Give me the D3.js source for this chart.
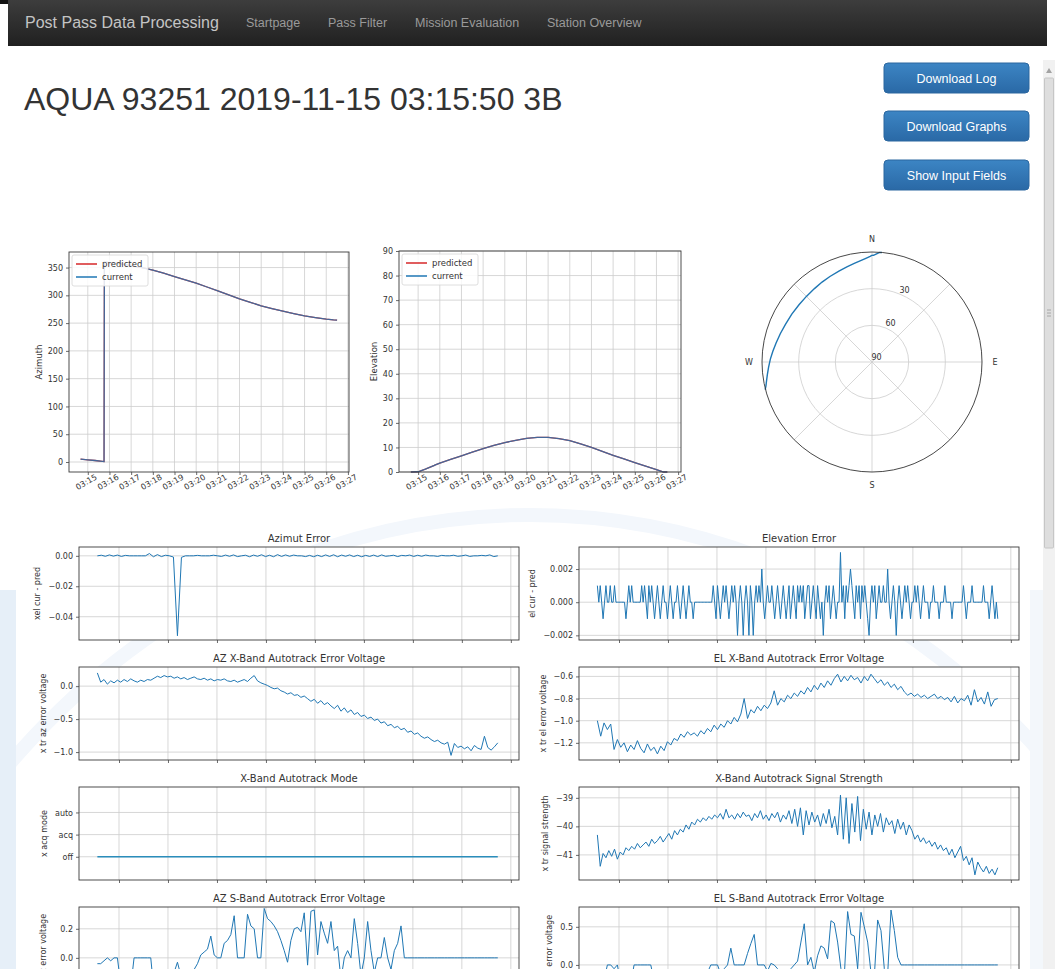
<!DOCTYPE html>
<html>
<head>
<meta charset="utf-8">
<title>Post Pass Data Processing</title>
<script src="https://cdn.jsdelivr.net/npm/d3@7"></script>
<style>
    body { margin: 0; background: #fff; overflow: hidden; }
    svg { display: block; }
    .chrome text { font-family: "Liberation Sans", Arial, sans-serif; }
    .mpl text { font-family: "DejaVu Sans", sans-serif; fill: #333; }
    .grid line { stroke: #cdcdcd; stroke-width: 0.8; }
    .frame { fill: none; stroke: #3a3a3a; stroke-width: 0.9; }
    .ax path.domain { display: none; }
    .ax line { stroke: #444; stroke-width: 0.8; }
    .ax text { font-size: 8px; fill: #333; }
</style>
</head>
<body>
<svg id="page" width="1055" height="969"></svg>
<script>
// ---- page texts ----
const brandText = "Post Pass Data Processing";
const navLinks = ["Startpage", "Pass Filter", "Mission Evaluation", "Station Overview"];
const passTitle = "AQUA 93251 2019-11-15 03:15:50 3B";
const buttonLabels = ["Download Log", "Download Graphs", "Show Input Fields"];

// ---- antenna track (top row) ----
const trackTickLabels = ["03:15", "03:16", "03:17", "03:18", "03:19", "03:20", "03:21",
    "03:22", "03:23", "03:24", "03:25", "03:26", "03:27"];
const trackTimes = ["03:14:40", "03:15:00", "03:15:20", "03:15:45", "03:15:46", "03:16:00",
    "03:16:30", "03:17:00", "03:17:30", "03:18:00", "03:18:30", "03:19:00", "03:19:30",
    "03:20:00", "03:20:30", "03:21:00", "03:21:30", "03:22:00", "03:22:30", "03:23:00",
    "03:23:30", "03:24:00", "03:24:30", "03:25:00", "03:25:30", "03:26:00", "03:26:20", "03:26:30"];
const azPredicted = [5.2, 4.0, 2.7, 0.8, 359.9, 359.0, 356.6, 353.6, 349.8, 345.2, 340.0, 333.8,
    328.0, 321.9, 315.0, 308.1, 300.8, 293.7, 287.3, 281.2, 276.2, 271.6, 267.2, 263.2, 260.0,
    257.2, 255.9, 255.4];
const azCurrent = [5.2, 4.0, 2.7, 0.8, 359.9, 359.0, 356.6, 353.6, 349.8, 345.2, 340.0, 333.8,
    328.0, 321.9, 315.0, 308.1, 300.8, 293.7, 287.3, 281.2, 276.2, 271.6, 267.2, 263.2, 260.0,
    257.2, 255.9, 255.4];
const elPredicted = [0.0, 0.1, 1.2, 2.7, 2.8, 3.6, 5.1, 6.6, 8.1, 9.5, 10.8, 12.0, 12.9, 13.7,
    14.1, 14.1, 13.6, 12.8, 11.5, 10.0, 8.4, 6.8, 5.3, 3.8, 2.4, 1.0, 0.0, 0.0];
const elCurrent = [0.0, 0.1, 1.2, 2.7, 2.8, 3.6, 5.1, 6.6, 8.1, 9.5, 10.8, 12.0, 12.9, 13.7,
    14.1, 14.1, 13.6, 12.8, 11.5, 10.0, 8.4, 6.8, 5.3, 3.8, 2.4, 1.0, 0.0, 0.0];
const legendNames = ["predicted", "current"];
const polarRings = [30, 60, 90];
const compassLabels = ["N", "E", "S", "W"];

// ---- telemetry (bottom grid), samples spread evenly over the recording ----
const recordStart = "03:13:07";
const recordEnd = "03:29:28";

const azimutError = [0.0000, 0.0004, -0.0003, 0.0006, -0.0002, 0.0005, -0.0004, 0.0003, 0.0000, 0.0000,
    0.0000, 0.0000, 0.0000, 0.0015, -0.0006, 0.0008, -0.0005, 0.0004, 0.0000, -0.0008,
    -0.0525, -0.0010, 0.0000, 0.0000, 0.0000, 0.0003, 0.0000, 0.0000, 0.0000, 0.0004,
    0.0000, -0.0004, 0.0005, -0.0003, 0.0006, -0.0005, 0.0000, 0.0004, -0.0006, 0.0005,
    -0.0003, 0.0007, -0.0005, 0.0004, -0.0006, 0.0008, -0.0004, 0.0006, -0.0003, 0.0005,
    0.0000, 0.0000, -0.0005, 0.0003, -0.0006, 0.0004, -0.0005, 0.0006, -0.0004, 0.0007,
    -0.0006, 0.0005, -0.0003, 0.0006, -0.0005, 0.0004, -0.0006, 0.0003, -0.0004, 0.0005,
    -0.0005, 0.0006, -0.0003, 0.0000, 0.0004, -0.0005, 0.0003, 0.0000, 0.0005, -0.0004,
    0.0004, -0.0003, 0.0005, 0.0000, 0.0000, -0.0004, 0.0003, 0.0000, 0.0000, 0.0004,
    -0.0003, 0.0000, 0.0005, -0.0004, 0.0000, 0.0000, 0.0003, 0.0000, 0.0006, -0.0005, 0.0000];

// elevation error in thousandths
const elevationErrorMilli = [1, 0, 1, 0, -1, 0, 1, 0, 0, 1, 0, 0, 1, 0,
    0, 0, 0, 0, 0, 0,
    -1, 0, 1, 0, 1,
    0, 0, 0, 0, 0, 0,
    1, 0, 1, 0, -1, 1, 0, 1, 0, -1, 0, 1, 0, -1, 0, 1, 0, 0, -1, 0,
    1, 0, -1, 0, 0, 1,
    0, -1, 0, 1, 0, -1, 0, 1, 0, 0, -1, 0, 0,
    0, 0, 0, 0, 0, 0, 0, 0, 0, 0, 0,
    1, 0, -1, 1, 0, -1, 0, 1,
    0, 1, 0, -1, 0, 1, 0, 1, 0, -2, 0, 1, 0,
    -2, 0, 1, 0, -2, 1, 0, -2, 0, 1, 0, 1, 0, 2,
    0, -1, 0, 1, 0, 0, 1, 0, -1, 0, 1, 0, -1, 0,
    1, 0, -1, 0, 1, -1, 0, 1, 0, -1, 1, 0, 1, 0,
    1, -1, 0, 1, 1, -1, 0, 1, 0, -1, 1, 0, -1, 0,
    -2, 0, 1, 0, 1, -1, 0, 1, 0, -1, 0, 0, 3,
    0, 1, -1, 1, 0, 1, 2, 1, 0, -1, 1, 0, 1, -1, 1,
    0, 1, 0, -1, -2, 0, 1, 0, 1, -1, 0, 1, 0, 0,
    1, 0, 0, 2, 0, -1, 0, 1, 0, -2, 0, 1, 0, -1,
    0, 1, 0, 1, 0, -1, 0, 0, 1, 0, 1, 0, -1, 0,
    1, 0, 0, 0, -1, 0, 0, 1, 0, 0, 0, -1, 0, 0,
    0, 1, 0, 0, 0, 0, -1, 0, 0, 0, 0, 0, 0, 0,
    1, 0, -1, 0, 0, 0, 1, 0, 0, 0, 0, 0, 0, 0,
    1, 0, 0, 0, -1, 0, 1, 0, -1, 0, -1];

const azXVoltage = [0.20, 0.06, 0.10, 0.03, 0.08, 0.05, 0.09, 0.06, 0.10, 0.07,
    0.11, 0.08, 0.06, 0.09, 0.07, 0.10, 0.09, 0.12, 0.15, 0.13,
    0.16, 0.14, 0.15, 0.12, 0.14, 0.11, 0.13, 0.10, 0.12, 0.14,
    0.11, 0.10, 0.12, 0.09, 0.11, 0.08, 0.10, 0.09, 0.11, 0.08,
    0.07, 0.09, 0.06, 0.08, 0.10, 0.07, 0.12, 0.16, 0.08, 0.05,
    0.03, 0.01, -0.02, -0.04, -0.03, -0.07, -0.09, -0.12, -0.10, -0.14,
    -0.13, -0.17, -0.15, -0.19, -0.23, -0.20, -0.26, -0.22, -0.28, -0.25,
    -0.30, -0.34, -0.29, -0.38, -0.33, -0.40, -0.36, -0.43, -0.40, -0.46,
    -0.44, -0.49, -0.47, -0.52, -0.50, -0.56, -0.54, -0.60, -0.58, -0.63,
    -0.61, -0.66, -0.64, -0.70, -0.68, -0.73, -0.71, -0.76, -0.79, -0.77,
    -0.81, -0.84, -0.82, -0.86, -0.88, -0.85, -1.05, -0.87, -0.93, -0.91,
    -0.95, -0.92, -0.98, -0.90, -0.94, -0.96, -0.76, -0.93, -0.97, -0.92,
    -0.86];

const elXVoltage = [-1.00, -1.14, -1.02, -1.08, -1.03, -1.26, -1.17, -1.24, -1.20, -1.28,
    -1.22, -1.26, -1.18, -1.25, -1.29, -1.21, -1.27, -1.24, -1.30, -1.23,
    -1.27, -1.19, -1.22, -1.16, -1.18, -1.12, -1.15, -1.10, -1.13, -1.11,
    -1.14, -1.09, -1.12, -1.07, -1.10, -1.04, -1.08, -1.03, -1.06, -1.00,
    -1.03, -0.97, -1.01, -0.94, -0.80, -0.98, -0.90, -0.93, -0.87, -0.91,
    -0.86, -0.89, -0.84, -0.73, -0.86, -0.80, -0.83, -0.77, -0.80, -0.75,
    -0.78, -0.73, -0.76, -0.70, -0.74, -0.68, -0.72, -0.66, -0.70, -0.64,
    -0.68, -0.62, -0.58, -0.65, -0.60, -0.64, -0.59, -0.63, -0.61, -0.66,
    -0.60, -0.64, -0.58, -0.62, -0.66, -0.63, -0.68, -0.65, -0.70, -0.67,
    -0.72, -0.69, -0.74, -0.77, -0.75, -0.78, -0.76, -0.79, -0.77, -0.80,
    -0.78, -0.76, -0.80, -0.78, -0.81, -0.79, -0.83, -0.78, -0.84, -0.80,
    -0.82, -0.77, -0.86, -0.72, -0.83, -0.79, -0.85, -0.74, -0.87, -0.81,
    -0.80];

const modeLevels = ["off", "acq", "auto"];
const xModeStates = ["off", "off"];

const xSignalStrength = [-40.30, -41.40, -40.95, -41.10, -40.85, -41.05, -40.80, -41.15, -40.90, -41.00,
    -40.75, -40.85, -40.70, -40.80, -40.60, -40.75, -40.65, -40.55, -40.70, -40.45,
    -40.60, -40.50, -40.35, -40.55, -40.40, -40.25, -40.45, -40.15, -40.30, -40.10,
    -40.20, -39.95, -40.10, -39.85, -39.95, -39.75, -39.85, -39.70, -39.80, -39.65,
    -39.75, -39.60, -39.70, -39.55, -39.75, -39.40, -39.70, -39.60, -39.75, -39.55,
    -39.70, -39.50, -39.65, -39.60, -39.80, -39.55, -39.70, -39.45, -39.75, -39.60,
    -39.80, -39.55, -39.70, -39.50, -39.85, -39.60, -39.75, -39.45, -39.90, -39.40,
    -40.00, -39.35, -40.30, -39.45, -39.95, -39.50, -39.85, -39.60, -40.00, -39.55,
    -39.90, -39.40, -40.05, -39.65, -40.30, -38.90, -40.45, -39.00, -40.60, -39.20,
    -40.20, -38.95, -40.50, -39.40, -40.10, -39.50, -40.30, -39.60, -40.00, -39.55,
    -40.20, -39.70, -39.95, -39.80, -40.25, -39.75, -40.10, -39.85, -40.30, -39.95,
    -40.15, -40.45, -40.30, -40.55, -40.40, -40.60, -40.50, -40.70, -40.55, -40.80,
    -40.65, -40.85, -40.75, -41.00, -40.80, -41.10, -40.90, -40.70, -41.20, -41.05,
    -41.35, -41.10, -41.70, -41.25, -41.45, -41.60, -41.40, -41.65, -41.50, -41.70,
    -41.45];

const azSVoltage = [-0.04, -0.04, -0.02, 0.00, -0.02, 0.00, 0.00, -0.18, -0.22, -0.15,
    -0.20, 0.00, 0.00, 0.00, 0.00, 0.00, 0.00, -0.24, -0.20, -0.25,
    -0.18, -0.22, -0.15, -0.10, -0.03, -0.12, -0.20, -0.18, -0.14, -0.08,
    -0.04, 0.02, 0.04, 0.06, 0.15, 0.02, 0.00, 0.00, 0.10, 0.12,
    0.16, 0.29, 0.00, 0.00, 0.00, 0.30, 0.22, 0.20, 0.00, 0.00,
    0.34, 0.27, 0.25, 0.22, 0.18, 0.12, 0.05, -0.03, 0.12, 0.20,
    0.21, 0.18, 0.31, -0.05, 0.32, 0.33, 0.02, 0.25, 0.17, 0.10,
    0.25, 0.05, 0.08, -0.15, 0.00, 0.05, 0.00, 0.27, 0.10, -0.12,
    0.00, 0.25, 0.05, -0.10, 0.00, 0.00, 0.14, 0.00, -0.08, 0.05,
    0.10, 0.22, 0.00, 0.00, 0.00, 0.00, 0.00, 0.00, 0.00, 0.00,
    0.00, 0.00, 0.00, 0.00, 0.00, 0.00, 0.00, 0.00, 0.00, 0.00,
    0.00, 0.00, 0.00, 0.00, 0.00, 0.00, 0.00, 0.00, 0.00, 0.00,
    0.00];

const elSVoltage = [-0.15, -0.10, -0.20, 0.00, 0.00, -0.05, 0.00, -0.25, -0.20, -0.15,
    -0.25, 0.00, 0.00, 0.00, 0.00, 0.00, 0.00, -0.20, -0.28, -0.22,
    -0.18, -0.25, -0.30, -0.20, -0.15, -0.22, -0.26, -0.18, -0.24, -0.20,
    -0.15, -0.22, -0.18, -0.10, 0.00, 0.00, 0.00, -0.12, -0.05, 0.00,
    0.22, 0.00, 0.00, 0.00, 0.00, 0.15, 0.28, 0.40, 0.00, 0.00,
    0.00, -0.08, 0.02, 0.00, -0.05, -0.15, -0.20, -0.12, -0.05, 0.00,
    0.05, 0.30, 0.54, 0.00, 0.10, -0.10, 0.12, 0.25, 0.22, 0.08,
    0.58, 0.55, 0.30, -0.05, -0.15, 0.70, 0.40, 0.38, -0.05, 0.69,
    0.50, 0.30, -0.10, -0.15, 0.59, 0.45, -0.05, -0.12, 0.72, 0.45,
    0.10, 0.00, 0.00, 0.00, 0.00, 0.00, 0.00, 0.00, 0.00, 0.00,
    0.00, 0.00, 0.00, 0.00, 0.00, 0.00, 0.00, 0.00, 0.00, 0.00,
    0.00, 0.00, 0.00, 0.00, 0.00, 0.00, 0.00, 0.00, 0.00, 0.00,
    0.00];

// ---- layout ----
const parseClock = d3.timeParse("%H:%M:%S");
const parseMinute = d3.timeParse("%H:%M");
const lineBlue = "#1f77b4";
const lineRed = "#d62728";

const svg = d3.select("#page");
const defs = svg.append("defs");

function addGradient(id, top, bottom) {
    let grad = defs.append("linearGradient")
        .attr("id", id)
        .attr("x1", 0).attr("y1", 0).attr("x2", 0).attr("y2", 1);
    grad.append("stop").attr("offset", "0%").attr("stop-color", top);
    grad.append("stop").attr("offset", "100%").attr("stop-color", bottom);
}
addGradient("navGrad", "#3d3d3d", "#202020");
addGradient("btnGrad", "#3c85c4", "#2a69a6");

function drawBackdrop() {
    let g = svg.append("g");
    g.append("ellipse")
        .attr("cx", 530).attr("cy", 1320).attr("rx", 720).attr("ry", 805)
        .attr("fill", "none").attr("stroke", "#f3f7fc").attr("stroke-width", 14);
    g.append("rect")
        .attr("x", 0).attr("y", 590).attr("width", 16).attr("height", 379)
        .attr("fill", "#e6eff8");
    g.append("rect")
        .attr("x", 1030).attr("y", 590).attr("width", 13).attr("height", 379)
        .attr("fill", "#f3f7fb");
}

function drawChrome() {
    let g = svg.append("g").attr("class", "chrome");

    g.append("rect").attr("x", 0).attr("y", 0).attr("width", 8).attr("height", 4).attr("fill", "#111");
    g.append("rect")
        .attr("x", 8).attr("y", 0).attr("width", 1039).attr("height", 46)
        .attr("fill", "url(#navGrad)");
    g.append("text")
        .attr("x", 25).attr("y", 28)
        .attr("font-size", 16).attr("fill", "#c4c4c4")
        .text(brandText);

    let linkX = [246, 328, 415, 547];
    g.selectAll("text.nav")
        .data(navLinks)
        .join("text")
            .attr("class", "nav")
            .attr("x", (d, i) => linkX[i])
            .attr("y", 27)
            .attr("font-size", 12.5)
            .attr("fill", "#9a9a9a")
            .text(d => d);

    g.append("text")
        .attr("x", 24).attr("y", 110)
        .attr("font-size", 32).attr("fill", "#333")
        .text(passTitle);

    let btnY = [63, 111, 160];
    let btn = g.selectAll("g.btn")
        .data(buttonLabels)
        .join("g")
            .attr("class", "btn")
            .attr("transform", (d, i) => `translate(884, ${ btnY[i] })`);
    btn.append("rect")
        .attr("width", 145).attr("height", 30).attr("rx", 4)
        .attr("fill", "url(#btnGrad)").attr("stroke", "#2b679f");
    btn.append("text")
        .attr("x", 72.5).attr("y", 19.5)
        .attr("text-anchor", "middle")
        .attr("font-size", 12.5).attr("fill", "#fff")
        .text(d => d);

    // scrollbar
    g.append("rect").attr("x", 1043).attr("y", 60).attr("width", 12).attr("height", 909).attr("fill", "#f1f1f1");
    g.append("path").attr("d", "M1046,73 L1049,68 L1052,73 Z").attr("fill", "#a3a3a3");
    g.append("rect")
        .attr("x", 1044.5).attr("y", 78).attr("width", 9).attr("height", 470).attr("rx", 1)
        .attr("fill", "#dedede").attr("stroke", "#c6c6c6");
    [310, 313, 316].forEach(y => {
        g.append("line").attr("x1", 1047).attr("x2", 1051).attr("y1", y).attr("y2", y)
            .attr("stroke", "#999").attr("stroke-width", 0.8);
    });
}

function drawGrid(g, xScale, xTicks, yScale, yTicks, frame) {
    let grid = g.append("g").attr("class", "grid");
    grid.selectAll("line.gx")
        .data(xTicks)
        .join("line")
            .attr("class", "gx")
            .attr("x1", d => xScale(d)).attr("x2", d => xScale(d))
            .attr("y1", frame.y).attr("y2", frame.y + frame.h);
    grid.selectAll("line.gy")
        .data(yTicks)
        .join("line")
            .attr("class", "gy")
            .attr("x1", frame.x).attr("x2", frame.x + frame.w)
            .attr("y1", d => yScale(d)).attr("y2", d => yScale(d));
}

function drawYLabel(g, axisGroup, text, frame, size, gap) {
    // the axis group is translated to frame.x, so its box is local to it
    let box = axisGroup.node().getBBox();
    let lx = frame.x + box.x - gap;
    let ly = frame.y + frame.h / 2;
    g.append("text")
        .attr("x", lx).attr("y", ly)
        .attr("transform", `rotate(-90 ${ lx } ${ ly })`)
        .attr("text-anchor", "middle")
        .attr("font-size", size)
        .text(text);
}

function drawTrackPanel(frame, xLimits, yDomain, yTicks, yLabel, predicted, current) {
    let g = svg.append("g").attr("class", "mpl");
    let x = d3.scaleTime()
        .domain(xLimits.map(parseClock))
        .range([frame.x, frame.x + frame.w]);
    let y = d3.scaleLinear()
        .domain(yDomain)
        .range([frame.y + frame.h, frame.y]);
    let xTicks = trackTickLabels.map(parseMinute);
    let times = trackTimes.map(parseClock);

    g.append("rect").attr("x", frame.x).attr("y", frame.y).attr("width", frame.w).attr("height", frame.h).attr("fill", "#fff");
    drawGrid(g, x, xTicks, y, yTicks, frame);

    let line = d3.line()
        .x((d, i) => x(times[i]))
        .y(d => y(d));
    g.append("path")
        .attr("d", line(predicted))
        .attr("fill", "none").attr("stroke", lineRed).attr("stroke-width", 1.3);
    g.append("path")
        .attr("d", line(current))
        .attr("fill", "none").attr("stroke", lineBlue).attr("stroke-width", 1.3).attr("stroke-opacity", 0.8);

    g.append("rect").attr("class", "frame")
        .attr("x", frame.x).attr("y", frame.y).attr("width", frame.w).attr("height", frame.h);

    let gx = g.append("g")
        .attr("class", "ax")
        .attr("transform", `translate(0, ${ frame.y + frame.h })`)
        .call(d3.axisBottom(x).tickValues(xTicks).tickFormat(d3.timeFormat("%H:%M")).tickSize(3));
    gx.selectAll("text")
        .attr("y", 0).attr("dy", "0.35em")
        .attr("text-anchor", "middle")
        .attr("font-size", 8.3)
        .attr("transform", "translate(-2, 10) rotate(-30)");

    let gy = g.append("g")
        .attr("class", "ax")
        .attr("transform", `translate(${ frame.x }, 0)`)
        .call(d3.axisLeft(y).tickValues(yTicks).tickFormat(d3.format("d")).tickSize(3).tickPadding(3));
    drawYLabel(g, gy, yLabel, frame, 8.5, 6);

    // legend
    let lg = g.append("g").attr("transform", `translate(${ frame.x + 3 }, ${ frame.y + 3 })`);
    lg.append("rect")
        .attr("width", 76).attr("height", 31).attr("rx", 2)
        .attr("fill", "#fff").attr("fill-opacity", 0.85)
        .attr("stroke", "#d6d6d6").attr("stroke-width", 0.8);
    lg.selectAll("line")
        .data(legendNames)
        .join("line")
            .attr("x1", 4).attr("x2", 25)
            .attr("y1", (d, i) => 9 + i * 13).attr("y2", (d, i) => 9 + i * 13)
            .attr("stroke", (d, i) => i == 0 ? lineRed : lineBlue)
            .attr("stroke-width", 1.5);
    lg.selectAll("text")
        .data(legendNames)
        .join("text")
            .attr("x", 30)
            .attr("y", (d, i) => 12 + i * 13)
            .attr("font-size", 8.5)
            .text(d => d);
}

function drawSkyPlot(cx, cy, radius) {
    let g = svg.append("g").attr("class", "mpl").attr("transform", `translate(${ cx }, ${ cy })`);
    let r = d3.scaleLinear().domain([90, 0]).range([0, radius]);

    g.append("circle").attr("r", radius).attr("fill", "#fff");
    g.selectAll("circle.ring")
        .data(polarRings.filter(d => d < 90))
        .join("circle")
            .attr("class", "ring")
            .attr("r", d => r(d))
            .attr("fill", "none").attr("stroke", "#cdcdcd").attr("stroke-width", 0.8);
    g.selectAll("line.spoke")
        .data(d3.range(0, 360, 45))
        .join("line")
            .attr("class", "spoke")
            .attr("x1", 0).attr("y1", 0)
            .attr("x2", d => radius * Math.sin(d * Math.PI / 180))
            .attr("y2", d => -radius * Math.cos(d * Math.PI / 180))
            .attr("stroke", "#cdcdcd").attr("stroke-width", 0.8);

    let track = d3.lineRadial()
        .angle(d => d[0] * Math.PI / 180)
        .radius(d => r(d[1]));
    g.append("path")
        .attr("d", track(azCurrent.map((d, i) => [d, elCurrent[i]])))
        .attr("fill", "none").attr("stroke", lineBlue).attr("stroke-width", 1.4);

    g.append("circle").attr("r", radius).attr("fill", "none").attr("stroke", "#333").attr("stroke-width", 0.9);

    let labelAngle = 22.5 * Math.PI / 180;
    g.selectAll("text.rl")
        .data(polarRings)
        .join("text")
            .attr("class", "rl")
            .attr("x", d => r(d) * Math.sin(labelAngle) + 4.5)
            .attr("y", d => -r(d) * Math.cos(labelAngle) - 4.5)
            .attr("dy", "0.35em")
            .attr("text-anchor", "middle")
            .attr("font-size", 8)
            .text(d => d);
    g.selectAll("text.cl")
        .data(compassLabels)
        .join("text")
            .attr("class", "cl")
            .attr("x", (d, i) => 123 * Math.sin(i * Math.PI / 2))
            .attr("y", (d, i) => -123 * Math.cos(i * Math.PI / 2))
            .attr("dy", "0.35em")
            .attr("text-anchor", "middle")
            .attr("font-size", 8)
            .text(d => d);
}

// bottom grid panels
const columnX = [79, 579];
const rowY = [547, 667, 787, 907];
const panelW = 440;
const panelH = 93;
const telemetryXLimits = ["03:12:22", "03:30:20"];

function drawTelemetryPanel(cfg) {
    let frame = { x: columnX[cfg.col], y: rowY[cfg.row], w: panelW, h: panelH };
    let g = svg.append("g").attr("class", "mpl");
    let x = d3.scaleTime()
        .domain(telemetryXLimits.map(parseClock))
        .range([frame.x, frame.x + frame.w]);
    let y = d3.scaleLinear()
        .domain(cfg.domain)
        .range([frame.y + frame.h, frame.y]);
    let xTicks = x.ticks(d3.timeMinute.every(2));

    let t0 = parseClock(recordStart).getTime();
    let t1 = parseClock(recordEnd).getTime();
    let n = cfg.values.length;
    let sampleTime = i => new Date(t0 + (t1 - t0) * i / (n - 1));

    g.append("rect").attr("x", frame.x).attr("y", frame.y).attr("width", frame.w).attr("height", frame.h).attr("fill", "#fff");
    drawGrid(g, x, xTicks, y, cfg.ticks, frame);

    g.append("path")
        .attr("d", d3.line().x((d, i) => x(sampleTime(i))).y(d => y(d))(cfg.values))
        .attr("fill", "none")
        .attr("stroke", cfg.color || lineBlue)
        .attr("stroke-width", cfg.width || 1)
        .attr("stroke-linejoin", "round");

    g.append("rect").attr("class", "frame")
        .attr("x", frame.x).attr("y", frame.y).attr("width", frame.w).attr("height", frame.h);

    g.append("g")
        .attr("class", "ax")
        .attr("transform", `translate(0, ${ frame.y + frame.h })`)
        .call(d3.axisBottom(x).tickValues(xTicks).tickFormat("").tickSize(3));
    let gy = g.append("g")
        .attr("class", "ax")
        .attr("transform", `translate(${ frame.x }, 0)`)
        .call(d3.axisLeft(y).tickValues(cfg.ticks).tickFormat(cfg.format).tickSize(3).tickPadding(3));
    drawYLabel(g, gy, cfg.ylabel, frame, 8, 8);

    g.append("text")
        .attr("x", frame.x + frame.w / 2)
        .attr("y", frame.y - 5)
        .attr("text-anchor", "middle")
        .attr("font-size", 10)
        .attr("fill", "#222")
        .text(cfg.title);
}

drawBackdrop();
drawChrome();

drawTrackPanel({ x: 69, y: 252, w: 280, h: 220 }, ["03:14:08", "03:27:03"],
    [-18, 378], d3.range(0, 351, 50), "Azimuth", azPredicted, azCurrent);
drawTrackPanel({ x: 399, y: 251, w: 282, h: 221 }, ["03:14:07", "03:27:08"],
    [0, 90], d3.range(0, 91, 10), "Elevation", elPredicted, elCurrent);
drawSkyPlot(872, 362, 110);

drawTelemetryPanel({
    title: "Azimut Error", ylabel: "xel cur - pred", col: 0, row: 0,
    values: azimutError, domain: [-0.0553, 0.0058], ticks: [-0.04, -0.02, 0], format: d3.format(".2f")
});
drawTelemetryPanel({
    title: "Elevation Error", ylabel: "el cur - pred", col: 1, row: 0,
    values: elevationErrorMilli.map(d => d / 1000), domain: [-0.00228, 0.00333],
    ticks: [-0.002, 0, 0.002], format: d3.format(".3f")
});
drawTelemetryPanel({
    title: "AZ X-Band Autotrack Error Voltage", ylabel: "x tr az error voltage", col: 0, row: 1,
    values: azXVoltage, domain: [-1.12, 0.29], ticks: [-1.0, -0.5, 0], format: d3.format(".1f")
});
drawTelemetryPanel({
    title: "EL X-Band Autotrack Error Voltage", ylabel: "x tr el error voltage", col: 1, row: 1,
    values: elXVoltage, domain: [-1.355, -0.515], ticks: [-1.2, -1.0, -0.8, -0.6], format: d3.format(".1f")
});
drawTelemetryPanel({
    title: "X-Band Autotrack Mode", ylabel: "x acq mode", col: 0, row: 2,
    values: xModeStates.map(d => modeLevels.indexOf(d) + 1), domain: [-0.05, 4.15],
    ticks: [1, 2, 3], format: d => modeLevels[d - 1], color: "#2a8dbb", width: 1.3
});
drawTelemetryPanel({
    title: "X-Band Autotrack Signal Strength", ylabel: "x tr signal strength", col: 1, row: 2,
    values: xSignalStrength, domain: [-41.88, -38.62], ticks: [-41, -40, -39], format: d3.format("d")
});
drawTelemetryPanel({
    title: "AZ S-Band Autotrack Error Voltage", ylabel: "s tr az error voltage", col: 0, row: 3,
    values: azSVoltage, domain: [-0.29, 0.35], ticks: [-0.2, 0, 0.2], format: d3.format(".1f")
});
drawTelemetryPanel({
    title: "EL S-Band Autotrack Error Voltage", ylabel: "s tr el error voltage", col: 1, row: 3,
    values: elSVoltage, domain: [-0.46, 0.76], ticks: [0, 0.5], format: d3.format(".1f")
});
</script>
</body>
</html>
